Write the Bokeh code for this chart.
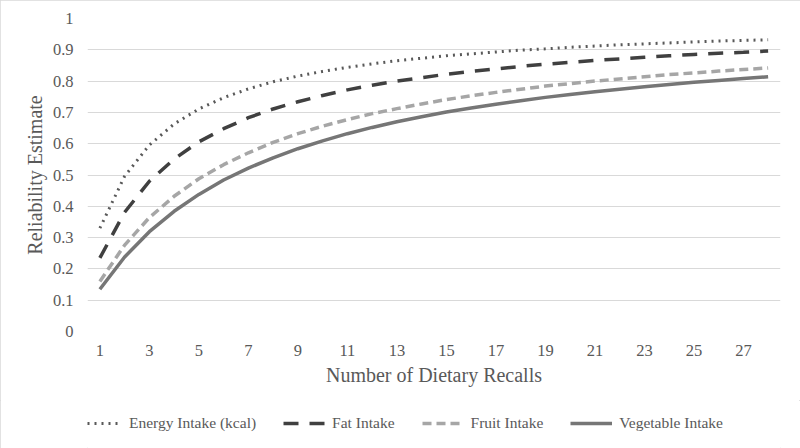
from bokeh.plotting import figure
from bokeh.layouts import column
from bokeh.models import FixedTicker, NumeralTickFormatter, Legend, LegendItem
from bokeh.embed import file_html
from bokeh.resources import INLINE

recalls = [1, 2, 3, 4, 5, 6, 7, 8, 9, 10, 11, 12, 13, 14, 15, 16, 17, 18, 19, 20,
           21, 22, 23, 24, 25, 26, 27, 28]
energy = [0.330, 0.496, 0.596, 0.663, 0.711, 0.747, 0.775, 0.798, 0.816, 0.831,
          0.844, 0.855, 0.865, 0.873, 0.881, 0.887, 0.893, 0.899, 0.903, 0.908,
          0.912, 0.916, 0.919, 0.922, 0.925, 0.928, 0.930, 0.932]
fat = [0.235, 0.381, 0.480, 0.551, 0.606, 0.648, 0.683, 0.711, 0.734, 0.754,
       0.772, 0.787, 0.800, 0.811, 0.822, 0.831, 0.839, 0.847, 0.854, 0.860,
       0.866, 0.871, 0.876, 0.881, 0.885, 0.889, 0.892, 0.896]
fruit = [0.160, 0.276, 0.364, 0.432, 0.488, 0.533, 0.571, 0.604, 0.632, 0.656,
         0.677, 0.696, 0.712, 0.727, 0.741, 0.753, 0.764, 0.774, 0.784, 0.792,
         0.800, 0.807, 0.814, 0.821, 0.826, 0.832, 0.837, 0.842]
vegetable = [0.135, 0.238, 0.319, 0.384, 0.438, 0.484, 0.522, 0.555, 0.584, 0.609,
             0.632, 0.652, 0.670, 0.686, 0.701, 0.714, 0.726, 0.737, 0.748, 0.757,
             0.766, 0.774, 0.782, 0.789, 0.796, 0.802, 0.808, 0.814]
x_ticks = [1, 3, 5, 7, 9, 11, 13, 15, 17, 19, 21, 23, 25, 27]
y_ticks = [0, 0.1, 0.2, 0.3, 0.4, 0.5, 0.6, 0.7, 0.8, 0.9, 1.0]
series_names = ["Energy Intake (kcal)", "Fat Intake", "Fruit Intake", "Vegetable Intake"]
series_values = [energy, fat, fruit, vegetable]
styles = [dict(line_color="#595959", line_width=3, line_dash="2 5"),
          dict(line_color="#404040", line_width=3.5, line_dash="15 11"),
          dict(line_color="#A6A6A6", line_width=3.5, line_dash="9 5"),
          dict(line_color="#767676", line_width=3.5, line_dash="solid")]

FONT = "Liberation Serif"
TXT = "#595959"

p = figure(width=800, height=400, output_backend="svg", toolbar_location=None,
           x_range=(0.5, 28.5), y_range=(0, 1.0),
           min_border_left=87, min_border_right=20, min_border_top=18,
           min_border_bottom=69)
p.outline_line_color = None
p.background_fill_color = "white"
p.border_fill_color = "white"

p.xgrid.grid_line_color = None
p.ygrid.grid_line_color = "#D9D9D9"
p.ygrid.grid_line_width = 1
p.ygrid.ticker = FixedTicker(ticks=y_ticks)

p.xaxis.ticker = FixedTicker(ticks=x_ticks)
p.yaxis.ticker = FixedTicker(ticks=y_ticks)
p.yaxis.formatter = NumeralTickFormatter(format="0.[0]")
for ax in (p.xaxis[0], p.yaxis[0]):
    ax.axis_line_color = None
    ax.major_tick_line_color = None
    ax.minor_tick_line_color = None
    ax.major_tick_in = 0
    ax.major_tick_out = 0
    ax.minor_tick_in = 0
    ax.minor_tick_out = 0
    ax.major_label_text_font = FONT
    ax.major_label_text_font_size = "16.5px"
    ax.major_label_text_color = TXT
    ax.axis_label_text_font = FONT
    ax.axis_label_text_font_size = "20px"
    ax.axis_label_text_font_style = "normal"
    ax.axis_label_text_color = TXT
p.xaxis.axis_label = "Number of Dietary Recalls"
p.yaxis.axis_label = "Reliability Estimate"
p.xaxis.major_label_standoff = 13
p.yaxis.major_label_standoff = 14
p.xaxis.axis_label_standoff = 5
p.yaxis.axis_label_standoff = 4

for vals, st in zip(series_values, styles):
    p.line(recalls, vals, **st)

# legend strip: same series drawn out of view, only the legend shows
lg = figure(width=800, height=48, output_backend="svg", toolbar_location=None,
            x_range=(0.5, 28.5), y_range=(2, 3),
            x_axis_location=None, y_axis_location=None,
            min_border_left=0, min_border_right=0, min_border_top=0,
            min_border_bottom=0)
lg.grid.visible = False
lg.outline_line_color = None
lg.border_fill_color = "white"
items = []
for name, vals, st in zip(series_names, series_values, styles):
    r = lg.line(recalls, vals, **st)
    items.append(LegendItem(label=name, renderers=[r]))
legend = Legend(items=items, orientation="horizontal", location=(-7, 16),
                label_text_font=FONT, label_text_font_size="15.5px",
                label_text_color=TXT, glyph_width=42, glyph_height=16,
                spacing=27, label_standoff=7, padding=4, margin=0,
                border_line_color=None, background_fill_alpha=0)
lg.add_layout(legend, "center")

layout = column(p, lg, spacing=0)
layout.styles = {"outline": "1px solid #D9D9D9", "outline-offset": "-1px"}

open("out.html", "w").write(file_html(layout, INLINE))
